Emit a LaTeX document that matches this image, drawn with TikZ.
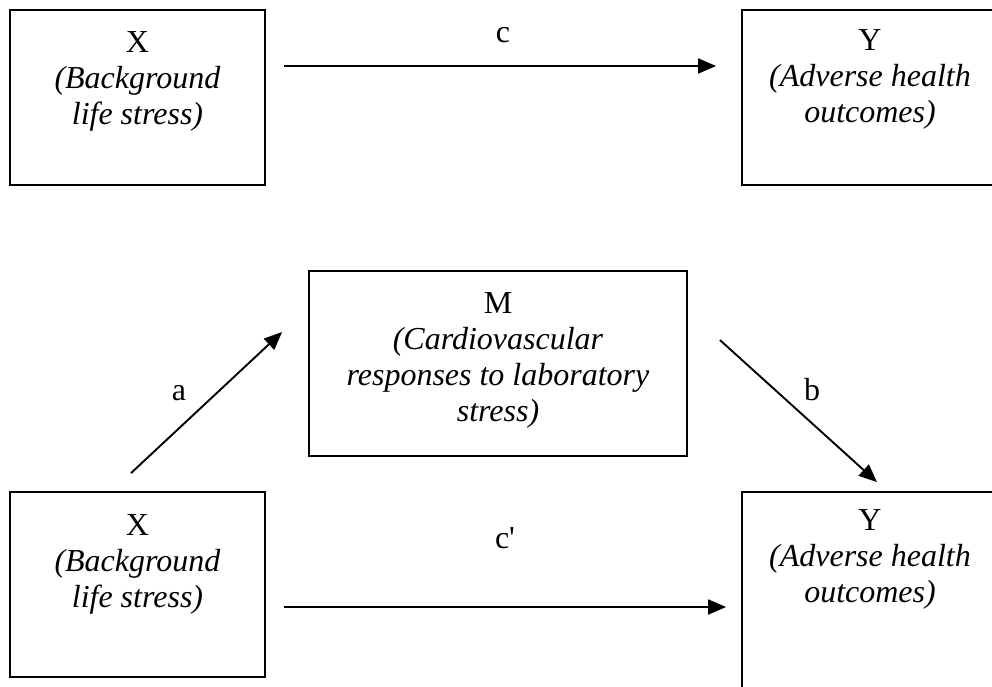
\documentclass[tikz,border=0pt]{standalone}
\usepackage{fontspec}
\setmainfont{Liberation Serif}
\usetikzlibrary{arrows.meta,calc}

\begin{document}
\begin{tikzpicture}[x=1pt,y=-1pt,
    box/.style={draw,line width=1.8pt,inner sep=0pt},
    txt/.style={align=center,inner sep=0pt,anchor=north,font=\fontsize{32}{36}\selectfont},
    lbl/.style={inner sep=0pt,anchor=base,font=\fontsize{32}{36}\selectfont},
    arr/.style={line width=1.9pt,-{Triangle[length=18pt,width=15pt]}}]
  \useasboundingbox (0,0) rectangle (992,686);
  \clip (0,0) rectangle (992,686);
  % total effect
  \node[box,minimum width=255pt,minimum height=175pt] (xa) at (137.5,97.5) {};
  \node[box,minimum width=256pt,minimum height=175pt] (ya) at (870,97.5) {};
  \node[txt] (xatxt) at ($(xa.north)+(0,22)$) {X\\\textit{(Background}\\\textit{life stress)}};
  \node[txt] (yatxt) at ($(ya.north)+(0,20)$) {Y\\\textit{(Adverse health}\\\textit{outcomes)}};
  % mediation model
  \node[box,minimum width=378pt,minimum height=185pt] (m) at (498,363.5) {};
  \node[box,minimum width=255pt,minimum height=185pt] (xb) at (137.5,584.5) {};
  \node[box,minimum width=256pt,minimum height=203pt] (yb) at (870,593.5) {};
  \node[txt] (mtxt) at ($(m.north)+(0,22)$) {M\\\textit{(Cardiovascular}\\\textit{responses to laboratory}\\\textit{stress)}};
  \node[txt] (xbtxt) at ($(xb.north)+(0,23)$) {X\\\textit{(Background}\\\textit{life stress)}};
  \node[txt] (ybtxt) at ($(yb.north)+(0,18)$) {Y\\\textit{(Adverse health}\\\textit{outcomes)}};
  % paths
  \node[lbl] (c) at (503,42) {c};
  \node[lbl] (cp) at (505,548) {c\textquotesingle};
  \node[lbl] (a) at (179,400) {a};
  \node[lbl] (b) at (812,400) {b};
  \begin{scope}[arr]
    \draw ($(xa.east)+(18,-31.5)$) -- ($(ya.west)+(-25,-31.5)$);
    \draw ($(xb.east)+(18,22.5)$) -- ($(yb.west)+(-15,13.5)$);
    \draw ($(xb.north)+(-6.5,-18)$) -- ($(m.west)+(-26,-31.5)$);
    \draw ($(m.east)+(32,-23.5)$) -- ($(yb.north)+(7,-9)$);
  \end{scope}
\end{tikzpicture}
\end{document}
